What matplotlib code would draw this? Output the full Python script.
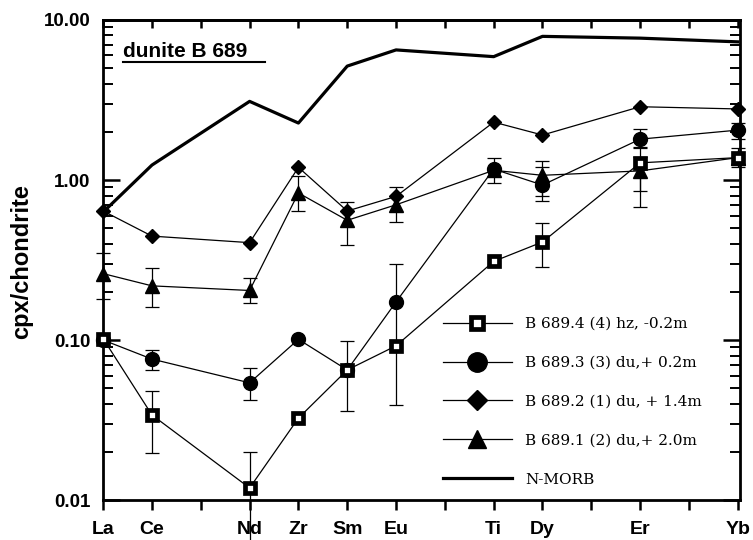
import numpy as np
import matplotlib
matplotlib.use('Agg')
import matplotlib.pyplot as plt
from matplotlib.ticker import FixedLocator, LogLocator, NullFormatter, FuncFormatter
from matplotlib.lines import Line2D

# Элементы и их позиции на оси x (между ними пропуски Pr, Gd, Ho, Tm)
elements = ['La', 'Ce', 'Nd', 'Zr', 'Sm', 'Eu', 'Ti', 'Dy', 'Er', 'Yb']
positions = [0, 1, 3, 4, 5, 6, 8, 9, 11, 13]
tick_positions = list(range(14))

# Нормированные к хондриту значения
nmorb = [0.63, 1.24, 3.1, 2.27, 5.15, 6.5, 5.9, 7.9, 7.7, 7.3]
b689_4 = [0.102, 0.034, 0.0119, 0.0325, 0.065, 0.092, 0.31, 0.41, 1.28, 1.38]
b689_3 = [0.10, 0.076, 0.054, 0.101, 0.065, 0.173, 1.17, 0.93, 1.80, 2.05]
b689_2 = [0.64, 0.446, 0.406, 1.20, 0.64, 0.79, 2.30, 1.91, 2.87, 2.78]
b689_1 = [0.26, 0.218, 0.204, 0.83, 0.56, 0.70, 1.15, 1.07, 1.14, 1.38]

# Погрешности: (индекс элемента, нижняя граница, верхняя граница)
err_4 = [(1, 0.0196, 0.048), (2, 0.005, 0.020), (4, 0.036, 0.098), (5, 0.039, 0.30),
         (7, 0.287, 0.54), (8, 0.85, 1.6), (9, 1.2, 1.58)]
err_3 = [(1, 0.065, 0.087), (2, 0.042, 0.067), (6, 0.955, 1.37), (7, 0.80, 1.32),
         (8, 1.58, 2.08), (9, 1.8, 2.28)]
err_1 = [(0, 0.18, 0.35), (1, 0.16, 0.283), (2, 0.17, 0.243), (3, 0.64, 1.06),
         (4, 0.39, 0.73), (5, 0.55, 0.90), (7, 0.74, 1.2), (8, 0.68, 1.4)]

labels = ['B 689.4 (4) hz, -0.2m', 'B 689.3 (3) du,+ 0.2m', 'B 689.2 (1) du, + 1.4m',
          'B 689.1 (2) du,+ 2.0m', 'N-MORB']


def draw_errors(ax, values, errors, zorder):
    """Рисуем вертикальные отрезки погрешностей с засечками"""
    xs = [positions[i] for i, lo, hi in errors]
    ys = [values[i] for i, lo, hi in errors]
    lower = [values[i] - lo for i, lo, hi in errors]
    upper = [hi - values[i] for i, lo, hi in errors]
    ax.errorbar(xs, ys, yerr=[lower, upper], fmt='none', ecolor='black',
                elinewidth=0.9, capsize=5, capthick=0.9, zorder=zorder, clip_on=False)


fig = plt.figure(figsize=(7.53, 5.4), dpi=100)
ax = fig.add_axes([0.137, 0.074, 0.846, 0.889])
ax.set_yscale('log')

ax.plot(positions, nmorb, color='black', linewidth=2.3, zorder=2, label=labels[4])

draw_errors(ax, b689_1, err_1, 3)
draw_errors(ax, b689_3, err_3, 3)
draw_errors(ax, b689_4, err_4, 3)

l2, = ax.plot(positions, b689_2, color='black', linewidth=0.9, marker='D', ms=7.5,
              zorder=4, clip_on=False)
l1, = ax.plot(positions, b689_1, color='black', linewidth=0.9, marker='^', ms=9.5,
              zorder=5, clip_on=False)
l3, = ax.plot(positions, b689_3, color='black', linewidth=0.9, marker='o', ms=10,
              zorder=6, clip_on=False)
l4, = ax.plot(positions, b689_4, color='black', linewidth=0.9, marker='s', ms=6.5,
              mfc='white', mec='black', mew=3.4, zorder=7, clip_on=False)
l5 = Line2D([], [], color='black', linewidth=2.3)

ax.set_xlim(0, 13.05)
ax.set_ylim(0.01, 10)

# Оформление осей
for side in ['left', 'right', 'top', 'bottom']:
    ax.spines[side].set_linewidth(2.0)

ax.xaxis.set_major_locator(FixedLocator(tick_positions))
tick_labels = [''] * 14
for p, name in zip(positions, elements):
    tick_labels[p] = name
ax.set_xticklabels(tick_labels, fontsize=14, fontweight='bold', family='Liberation Sans')
ax.tick_params(axis='x', direction='out', length=7, width=1.8, pad=8)

top = ax.secondary_xaxis('top')
top.set_xticks(tick_positions)
top.set_xticklabels([])
top.tick_params(direction='in', length=6, width=1.8)
top.spines['top'].set_linewidth(2.0)

ax.yaxis.set_major_locator(LogLocator(base=10, numticks=10))
ax.yaxis.set_minor_locator(LogLocator(base=10, subs=np.arange(2, 10), numticks=10))
ax.yaxis.set_minor_formatter(NullFormatter())
ax.yaxis.set_major_formatter(FuncFormatter(lambda v, pos: '%.2f' % v))
ax.tick_params(axis='y', which='major', direction='in', length=12, width=1.8,
               right=True, labelsize=13.5, pad=9)
ax.tick_params(axis='y', which='minor', direction='in', length=7, width=1.4, right=True)
for t in ax.get_yticklabels():
    t.set_fontweight('bold')
    t.set_family('Liberation Sans')

fig.text(0.029, 0.515, 'cpx/chondrite', rotation=90, ha='center', va='center',
         fontsize=17, fontweight='bold', family='Liberation Sans')

# Подпись с подчёркиванием
ax.text(0.031, 0.923, 'dunite B 689', transform=ax.transAxes, fontsize=15,
        fontweight='bold', family='Liberation Sans', va='baseline', ha='left')
ax.add_line(Line2D([0.031, 0.254], [0.9125, 0.9125], transform=ax.transAxes,
                   color='black', linewidth=1.5))

leg = ax.legend([l4, l3, l2, l1, l5], labels[:4] + [labels[4]],
                loc='upper left', bbox_to_anchor=(0.588, 0.413),
                bbox_transform=fig.transFigure, frameon=False, markerscale=1.4,
                handlelength=4.5, handletextpad=0.9, labelspacing=1.63,
                borderpad=0, borderaxespad=0,
                prop={'family': 'DejaVu Serif', 'size': 11})

fig.savefig('out.png', dpi=100)
